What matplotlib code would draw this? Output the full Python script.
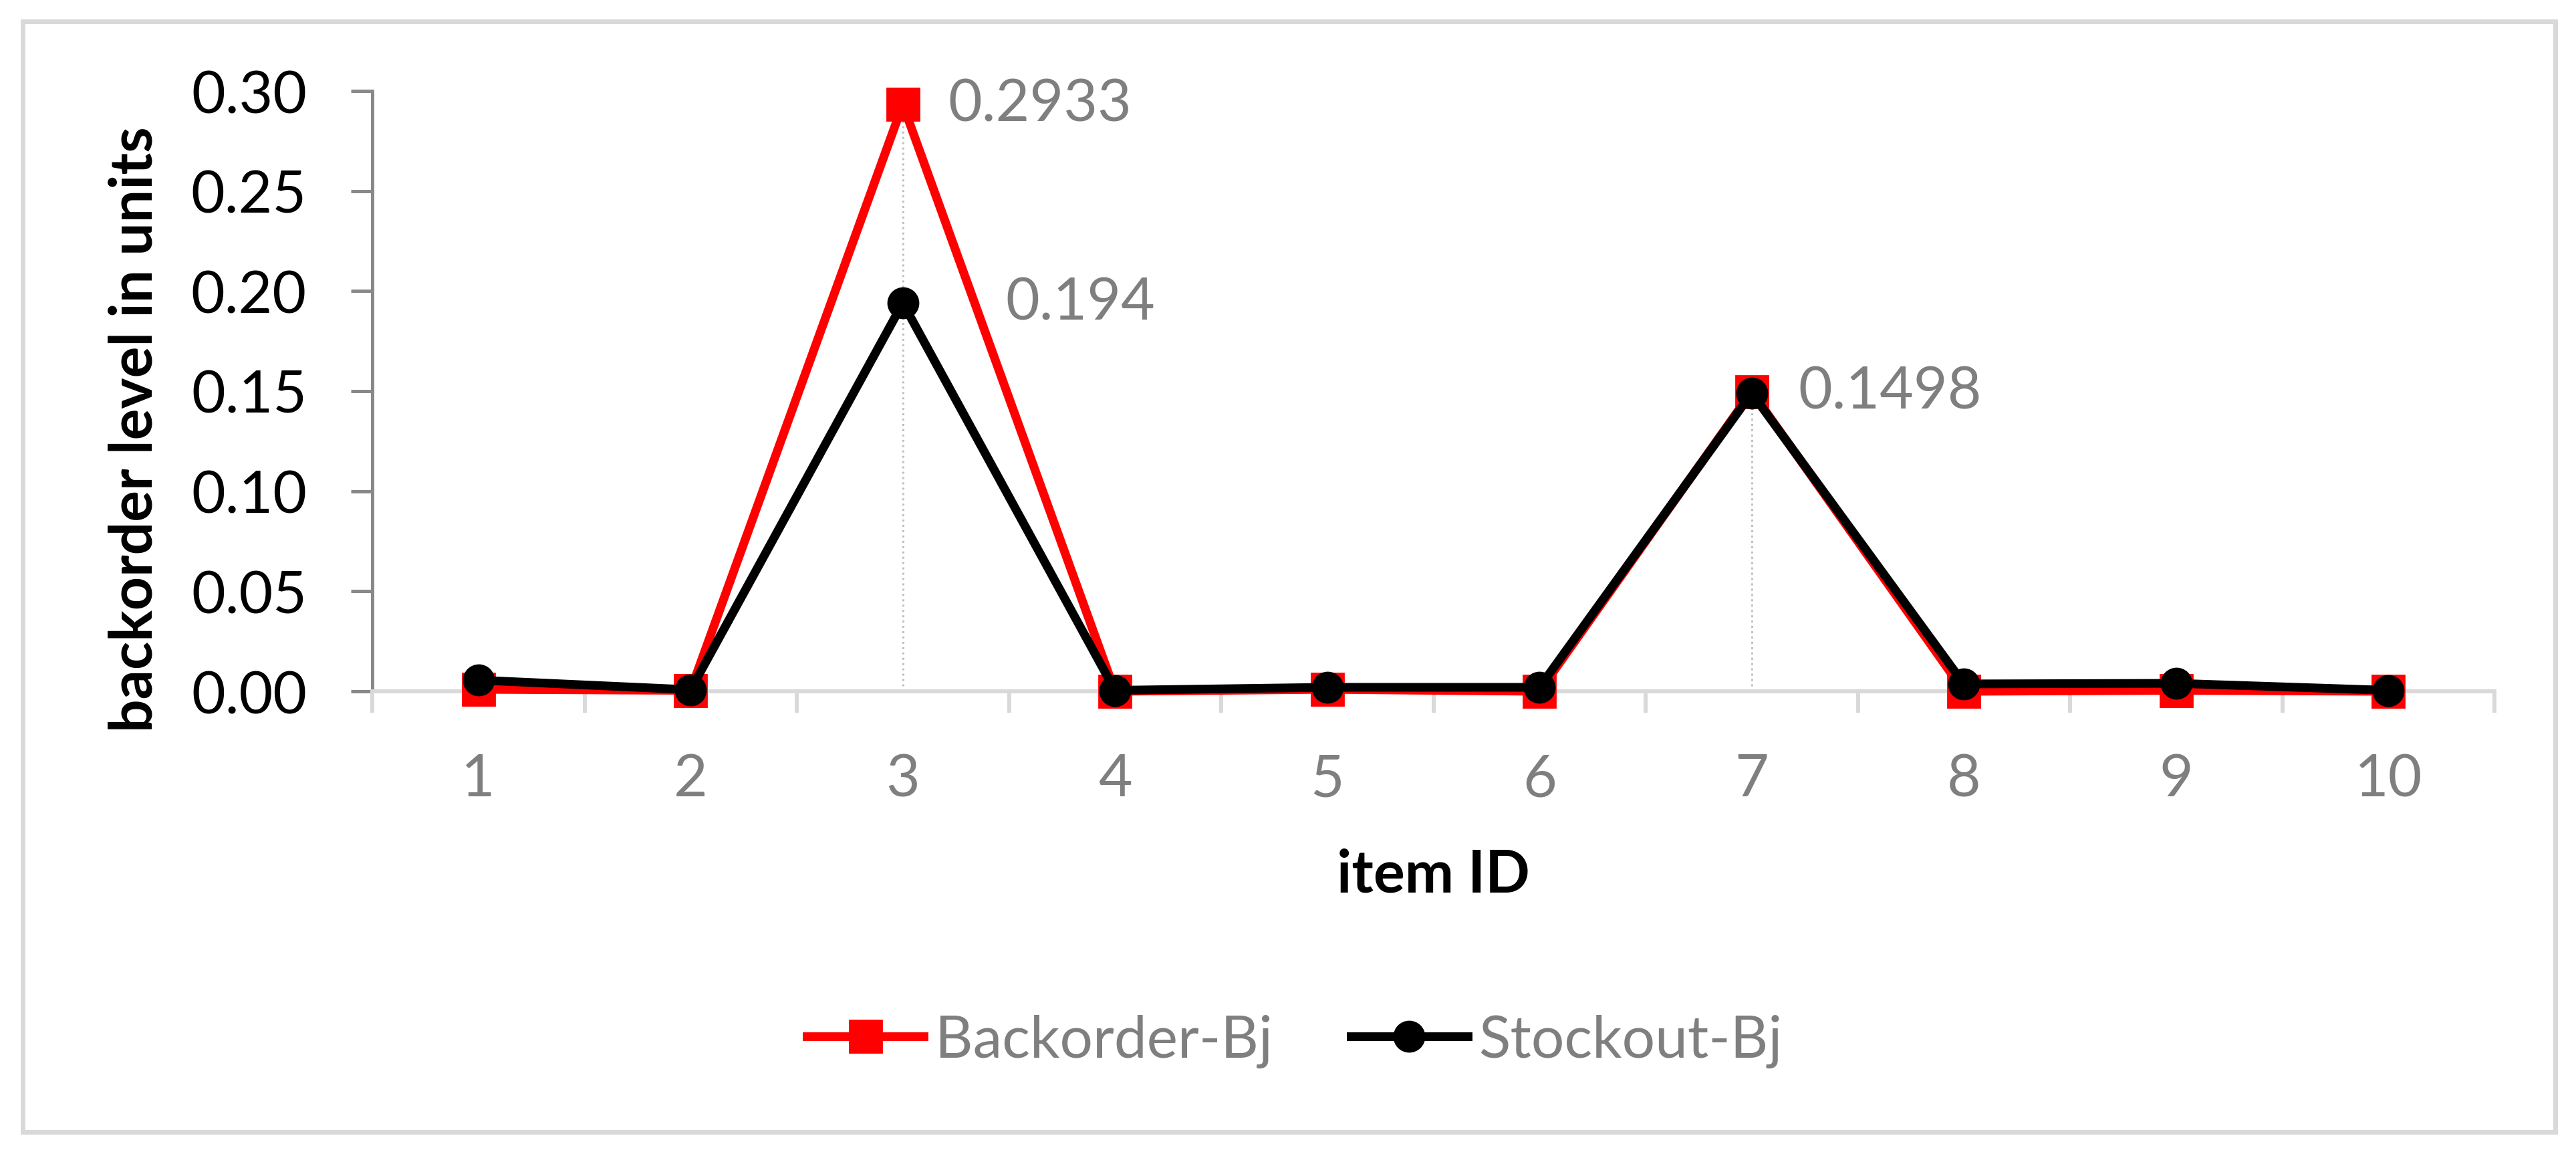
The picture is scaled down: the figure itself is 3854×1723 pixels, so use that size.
"""Backorder vs stockout level per item"""

import matplotlib
matplotlib.use('Agg')
import matplotlib.pyplot as plt
from matplotlib.patches import Rectangle
from matplotlib.ticker import FixedLocator, FormatStrFormatter

plt.rcParams['font.family'] = ['Lato', 'DejaVu Sans']

# data
item_ids = [1, 2, 3, 4, 5, 6, 7, 8, 9, 10]
backorder_bj = [0.001, 0.0005, 0.2933, 0.0, 0.001, 0.0, 0.1498, 0.0, 0.0005, 0.0]
stockout_bj = [0.0056, 0.0008, 0.194, 0.0005, 0.002, 0.002, 0.149, 0.0037, 0.004, 0.0005]
y_ticks = [0.00, 0.05, 0.10, 0.15, 0.20, 0.25, 0.30]

# (item, value, x-offset px) for the labelled points
point_labels = [(3, 0.2933, 68), (3, 0.194, 154), (7, 0.1498, 70)]

W, H = 3854, 1724
DPI = 200
FS = 31.5
GRAY_TXT = '#7f7f7f'
LIGHT = '#d9d9d9'


def px(v):
    # pixels -> points
    return v * 72 / DPI


def main():
    fig = plt.figure(figsize=(W / DPI, H / DPI), dpi=DPI)
    ax = fig.add_axes([557 / W, 1 - 1035 / H, (3732 - 557) / W, (1035 - 137) / H])

    # drop lines
    tops = [max(b, s) for b, s in zip(backorder_bj, stockout_bj)]
    ax.vlines(item_ids, 0, tops, colors='#bfbfbf', linestyles=':',
              linewidth=px(3), zorder=1)

    ax.plot(item_ids, backorder_bj, color='#ff0000', linewidth=px(13),
            marker='s', markersize=px(47), label='Backorder-Bj',
            clip_on=False, zorder=3)
    ax.plot(item_ids, stockout_bj, color='black', linewidth=px(13),
            marker='o', markersize=px(45), label='Stockout-Bj',
            clip_on=False, zorder=4)

    for x, v, dx in point_labels:
        ax.annotate(f'{v:g}', xy=(x, v), xytext=(dx, 0),
                    textcoords='offset pixels', ha='left', va='center',
                    fontsize=FS, color=GRAY_TXT)

    ax.set_xlim(0.5, 10.5)
    ax.set_ylim(0, 0.30)

    # axes styling
    for s in ['top', 'right']:
        ax.spines[s].set_visible(False)
    ax.spines['left'].set_color('#898989')
    ax.spines['left'].set_linewidth(px(5))
    ax.spines['bottom'].set_color(LIGHT)
    ax.spines['bottom'].set_linewidth(px(6))

    ax.yaxis.set_major_locator(FixedLocator(y_ticks))
    ax.yaxis.set_major_formatter(FormatStrFormatter('%.2f'))
    ax.tick_params(axis='y', which='major', length=px(32), width=px(5),
                   color='#898989', pad=px(66), labelsize=FS,
                   labelcolor='black')

    # category boundaries as major ticks, labels on minor ticks
    ax.xaxis.set_major_locator(FixedLocator([i + 0.5 for i in range(0, 11)]))
    ax.xaxis.set_minor_locator(FixedLocator(item_ids))
    ax.set_xticklabels([], minor=False)
    ax.set_xticklabels([str(i) for i in item_ids], minor=True)
    ax.tick_params(axis='x', which='major', length=px(32), width=px(6),
                   color=LIGHT)
    ax.tick_params(axis='x', which='minor', length=0, pad=px(92),
                   labelsize=FS, labelcolor=GRAY_TXT)

    ax.set_xlabel('item ID', fontsize=FS, fontweight='bold', va='center')
    ax.xaxis.set_label_coords(0.5, (1035 - 1309) / (1035 - 137))
    ax.set_ylabel('backorder level in units', fontsize=FS,
                  fontweight='bold', va='center')
    ax.yaxis.set_label_coords((202 - 557) / (3732 - 557),
                              (1035 - 642) / (1035 - 137))

    leg = fig.legend(loc='center', bbox_to_anchor=(1937 / W, 1 - 1558 / H),
                     ncol=2, frameon=False, fontsize=FS,
                     handlelength=2.0, handletextpad=0.19,
                     columnspacing=1.33)
    for t in leg.get_texts():
        t.set_color(GRAY_TXT)

    # chart border
    fig.patches.append(Rectangle((34 / W, 1 - 1694 / H),
                                 (3823 - 34) / W, (1694 - 33) / H,
                                 transform=fig.transFigure, fill=False,
                                 edgecolor=LIGHT, linewidth=px(7)))

    fig.savefig('out.png', dpi=DPI)
    plt.close(fig)


if __name__ == "__main__":
    main()
